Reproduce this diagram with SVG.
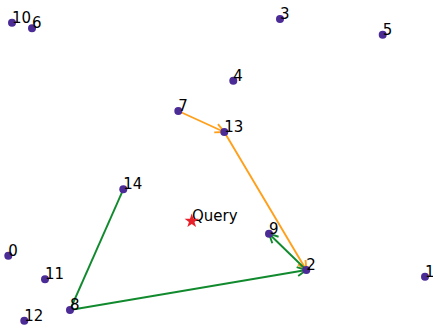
<svg xmlns="http://www.w3.org/2000/svg" width="433" height="330" viewBox="0 0 433 330">
  <style>
    .pt { fill: #4b2b96; }
    .lbl { font-family: "DejaVu Sans", sans-serif; font-size: 15px; fill: #000; }
    .orange { stroke: #ff9f1a; stroke-width: 1.9; fill: none; }
    .green { stroke: #118a2e; stroke-width: 1.9; fill: none; }
  </style>
  <defs>
    <marker id="headO" markerUnits="userSpaceOnUse" markerWidth="14" markerHeight="14" viewBox="0 0 14 14" refX="12" refY="7" orient="auto">
      <path d="M3,2.5 L12,7 L3,11.5" fill="none" stroke="#ff9f1a" stroke-width="1.9"/>
    </marker>
    <marker id="headG" markerUnits="userSpaceOnUse" markerWidth="14" markerHeight="14" viewBox="0 0 14 14" refX="12" refY="7" orient="auto">
      <path d="M3,2.5 L12,7 L3,11.5" fill="none" stroke="#118a2e" stroke-width="1.9"/>
    </marker>
  </defs>
  <rect width="433" height="330" fill="#fff"/>

  <g id="connectors">
    <line class="orange" x1="178.3" y1="111" x2="224.3" y2="132" marker-end="url(#headO)"/>
    <line class="orange" x1="224.3" y1="132" x2="306.3" y2="270" marker-end="url(#headO)"/>
    <line class="green" x1="123.3" y1="189.3" x2="70" y2="310"/>
    <line class="green" x1="70" y1="310" x2="306.3" y2="270" marker-end="url(#headG)"/>
    <line class="green" x1="306.3" y1="270" x2="269" y2="233.7" marker-end="url(#headG)"/>
  </g>

  <g id="n0"><circle class="pt" cx="8.3" cy="255.7" r="4"/><text class="lbl" x="8.3" y="255.7">0</text></g>
  <g id="n1"><circle class="pt" cx="425" cy="276.7" r="4"/><text class="lbl" x="425" y="276.7">1</text></g>
  <g id="n2"><circle class="pt" cx="306.3" cy="270" r="4"/><text class="lbl" x="306.3" y="270">2</text></g>
  <g id="n3"><circle class="pt" cx="280" cy="19" r="4"/><text class="lbl" x="280" y="19">3</text></g>
  <g id="n4"><circle class="pt" cx="233.3" cy="80.7" r="4"/><text class="lbl" x="233.3" y="80.7">4</text></g>
  <g id="n5"><circle class="pt" cx="382.7" cy="34.7" r="4"/><text class="lbl" x="382.7" y="34.7">5</text></g>
  <g id="n6"><circle class="pt" cx="32" cy="28.3" r="4"/><text class="lbl" x="32" y="28.3">6</text></g>
  <g id="n7"><circle class="pt" cx="178.3" cy="111" r="4"/><text class="lbl" x="178.3" y="111">7</text></g>
  <g id="n8"><circle class="pt" cx="70" cy="310" r="4"/><text class="lbl" x="70" y="310">8</text></g>
  <g id="n9"><circle class="pt" cx="269" cy="233.7" r="4"/><text class="lbl" x="269" y="233.7">9</text></g>
  <g id="n10"><circle class="pt" cx="12" cy="22.7" r="4"/><text class="lbl" x="12" y="22.7">10</text></g>
  <g id="n11"><circle class="pt" cx="45" cy="279.3" r="4"/><text class="lbl" x="45" y="279.3">11</text></g>
  <g id="n12"><circle class="pt" cx="24.3" cy="320.7" r="4"/><text class="lbl" x="24.3" y="320.7">12</text></g>
  <g id="n13"><circle class="pt" cx="224.3" cy="132" r="4"/><text class="lbl" x="224.3" y="132">13</text></g>
  <g id="n14"><circle class="pt" cx="123.3" cy="189.3" r="4"/><text class="lbl" x="123.3" y="189.3">14</text></g>

  <g id="query">
    <text class="lbl" x="192" y="221">Query</text>
    <polygon fill="#e8202a" transform="translate(191.7,221) scale(1.15)"
      points="0,-6.5 1.5,-2 6.2,-2 2.4,0.8 3.8,5.3 0,2.5 -3.8,5.3 -2.4,0.8 -6.2,-2 -1.5,-2"/>
  </g>
</svg>
